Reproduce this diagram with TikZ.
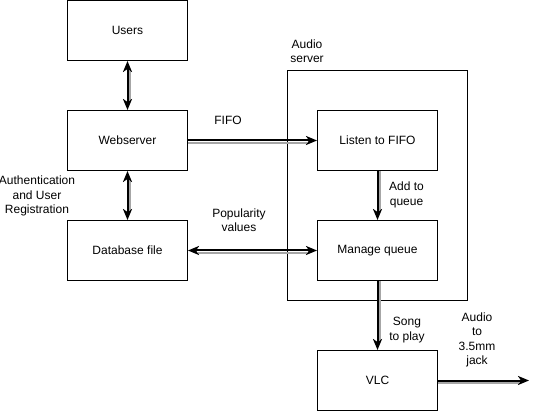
\documentclass[tikz,border=0pt]{standalone}
\usepackage{fontspec}
\setmainfont{Liberation Sans}
\usetikzlibrary{arrows.meta}
\tikzset{
  box/.style={draw=black, line width=1pt, fill=white, minimum width=120pt, minimum height=60pt, inner sep=0pt, font=\fontsize{12}{14.5}\selectfont},
  container/.style={draw=black, line width=1pt, minimum width=180pt, minimum height=230pt, inner sep=0pt},
  lbl/.style={align=center, inner sep=0pt, font=\fontsize{12}{14.5}\selectfont},
  conn/.style={draw=black, line width=2pt, -{Stealth[length=11pt,width=9pt,inset=3pt]}},
  bconn/.style={draw=black, line width=2pt, {Stealth[length=11pt,width=9pt,inset=3pt]}-{Stealth[length=11pt,width=9pt,inset=3pt]}},
  shad/.style={draw=black!35, line width=2pt},
}
\begin{document}
\begin{tikzpicture}[x=1pt,y=-1pt]
\useasboundingbox (0,0) rectangle (543,411);
\node[container] (srv) at (377.5,185.5) {};
\node[box] (users) at (127.5,30.5) {Users};
\node[box] (web) at (127.5,140.5) {Webserver};
\node[box] (db) at (127.5,250.5) {Database file};
\node[box] (listen) at (377.5,140.5) {Listen to FIFO};
\node[box] (manage) at (377.5,250.5) {Manage queue};
\node[box] (vlc) at (377.5,380.5) {VLC};
\coordinate (out) at (529,380.5);

% shadows
\draw[shad, shorten <=10pt, shorten >=10pt] ([shift={(2.5,0)}]users.south) -- ([shift={(2.5,0)}]web.north);
\draw[shad, shorten <=10pt, shorten >=10pt] ([shift={(2.5,0)}]web.south) -- ([shift={(2.5,0)}]db.north);
\draw[shad, shorten >=10pt] ([shift={(0,2.5)}]web.east) -- ([shift={(0,2.5)}]listen.west);
\draw[shad, shorten <=10pt, shorten >=10pt] ([shift={(0,2.5)}]db.east) -- ([shift={(0,2.5)}]manage.west);
\draw[shad, shorten >=10pt] ([shift={(2.5,0)}]listen.south) -- ([shift={(2.5,0)}]manage.north);
\draw[shad, shorten >=10pt] ([shift={(2.5,0)}]manage.south) -- ([shift={(2.5,0)}]vlc.north);
\draw[shad, shorten >=10pt] ([shift={(0,2.5)}]vlc.east) -- ([shift={(0,2.5)}]out);

% connectors
\draw[bconn] (users.south) -- (web.north);
\draw[bconn] (web.south) -- (db.north);
\draw[conn] (web.east) -- (listen.west);
\draw[bconn] (db.east) -- (manage.west);
\draw[conn] (listen.south) -- (manage.north);
\draw[conn] (manage.south) -- (vlc.north);
\draw[conn] (vlc.east) -- (out);

% labels
\node[lbl] (lfifo) at (228,120) {FIFO};
\node[lbl] (lpop) at (239,220) {Popularity\\values};
\node[lbl, anchor=west] (ladd) at (389,195) {Add to\\queue};
\node[lbl] (lsong) at (407,330) {Song\\to play};
\node[lbl] (laudio) at (477,340) {Audio\\to\\3.5mm\\jack};
\node[lbl] (lauth) at (37,196) {Authentication\\and User\\Registration};
\node[lbl] (lsrv) at (307,51) {Audio\\server};
\end{tikzpicture}
\end{document}
